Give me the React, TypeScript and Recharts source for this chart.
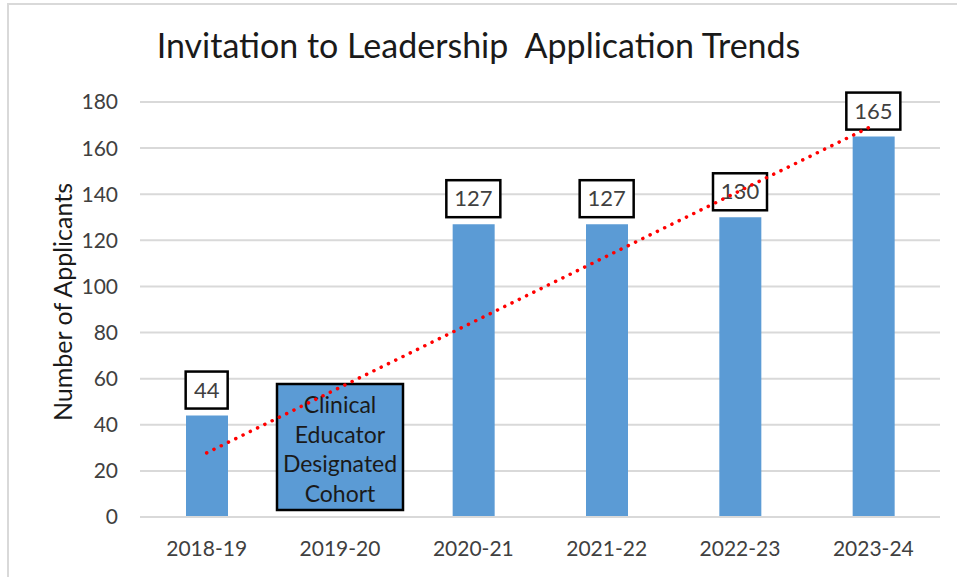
import React from 'react'
import { ComposedChart, Bar, Line, XAxis, YAxis, CartesianGrid, LabelList } from 'recharts'

const years = ['2018-19', '2019-20', '2020-21', '2021-22', '2022-23', '2023-24']
const applicants = [44, 0, 127, 127, 130, 165]
// linear trendline
const trend = [27.8, 56.2, 84.6, 113.1, 141.5, 169.9]
const yTicks = [0, 20, 40, 60, 80, 100, 120, 140, 160, 180]
const noteYear = '2019-20'
const noteLines = ['Clinical', 'Educator', 'Designated', 'Cohort']

const data = years.map((year, i) => ({ year, applicants: applicants[i], trend: trend[i] }))

const FONT = 'Lato, "Open Sans", sans-serif'
const BLUE = '#5b9bd5'
const GRID = '#d9d9d9'

const BoxLabel = (props: any) => {
  const { x, y, value, index } = props
  const cx = x
  const bottom = y - 7
  if (years[index] === noteYear) {
    const w = 126
    const h = 126
    return (
      <g>
        <rect x={cx - w / 2} y={bottom - h} width={w} height={h} fill={BLUE} stroke="#000" strokeWidth={2.5} />
        {noteLines.map((t, i) => (
          <text key={t} x={cx} y={bottom - h + 29 + i * 29.5} textAnchor="middle" fontSize={23} fontFamily={FONT} fill="#1a1a1a">
            {t}
          </text>
        ))}
      </g>
    )
  }
  const txt = String(value)
  const w = txt.length > 2 ? 54 : 42
  const h = 37
  return (
    <g>
      <rect x={cx - w / 2} y={bottom - h} width={w} height={h} fill="#fff" stroke="#000" strokeWidth={2.5} />
      <text x={cx} y={bottom - h / 2 + 7.5} textAnchor="middle" fontSize={22} fontFamily={FONT} fill="#404040">
        {txt}
      </text>
    </g>
  )
}

const App: React.FC = () => {
  return (
    <div style={{ position: 'absolute', left: 0, top: 0, width: 957, height: 577, background: '#fff', overflow: 'hidden' }}>
      <div style={{ position: 'absolute', left: 7, top: 3, width: 960, height: 580, borderLeft: `2px solid ${GRID}`, borderTop: `2px solid ${GRID}` }} />
      <div
        style={{
          position: 'absolute', left: 0, width: 957, top: 28, textAlign: 'center',
          fontFamily: FONT, fontSize: 34, lineHeight: 1, color: '#1a1a1a', whiteSpace: 'pre',
        }}
      >
        Invitation to Leadership  Application Trends
      </div>
      <ComposedChart
        width={957}
        height={577}
        data={data}
        margin={{ top: 102, right: 17, left: 0, bottom: 30 }}
        barCategoryGap={0}
        style={{ position: 'absolute', left: 0, top: 0 }}
      >
        <CartesianGrid stroke={GRID} strokeWidth={2} vertical={false} />
        <XAxis
          dataKey="year"
          tickLine={false}
          axisLine={{ stroke: GRID, strokeWidth: 2 }}
          tickSize={0}
          tickMargin={24}
          tick={{ fontSize: 21, fontFamily: FONT, fill: '#404040' }}
        />
        <YAxis
          width={140}
          domain={[0, 180]}
          ticks={yTicks}
          interval={0}
          tickLine={false}
          axisLine={false}
          tickSize={0}
          tickMargin={22}
          tick={{ fontSize: 21, fontFamily: FONT, fill: '#404040' }}
          label={(
            <text x={62} y={310} transform="rotate(-90 62 310)" textAnchor="middle" dominantBaseline="central" fontSize={25} fontFamily={FONT} fill="#1a1a1a">
              Number of Applicants
            </text>
          )}
        />
        <Bar dataKey="applicants" fill={BLUE} barSize={42} isAnimationActive={false} />
        <Line
          dataKey="applicants"
          stroke="none"
          dot={false}
          activeDot={false}
          legendType="none"
          isAnimationActive={false}
        >
          <LabelList dataKey="applicants" content={<BoxLabel />} />
        </Line>
        <Line
          dataKey="trend"
          type="linear"
          stroke="#ff0000"
          strokeWidth={3.5}
          strokeDasharray="0.1 8"
          strokeLinecap="round"
          dot={false}
          activeDot={false}
          zIndex={3000}
          isAnimationActive={false}
        />
      </ComposedChart>
    </div>
  )
}

export default App
